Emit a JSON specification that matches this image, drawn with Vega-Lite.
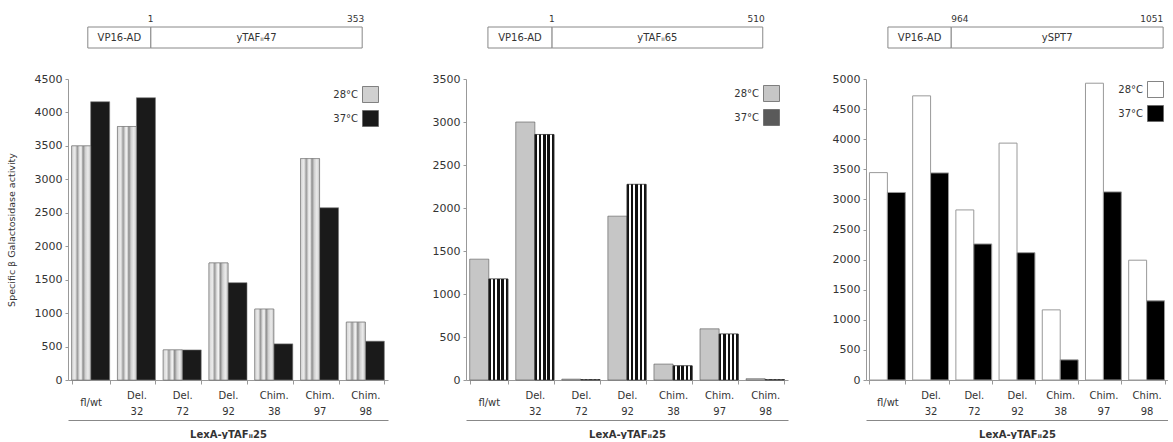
{
  "$schema": "https://vega.github.io/schema/vega-lite/v6.json",
  "padding": {"left": 6, "top": 14, "right": 0, "bottom": 0},
  "config": {
    "view": {"stroke": null},
    "font": "DejaVu Sans",
    "axis": {"labelColor": "#333", "titleColor": "#333", "domainColor": "#999", "tickColor": "#999", "grid": false, "labelFont": "DejaVu Sans", "titleFont": "DejaVu Sans"},
    "legend": {"labelFontSize": 10, "symbolType": "square", "symbolSize": 256, "labelAlign": "right", "labelOffset": -21, "rowPadding": 3, "symbolStrokeColor": "#666", "symbolStrokeWidth": 0.8, "padding": 0, "labelColor": "#333"},
    "text": {"color": "#333"}
  },
  "datasets": {
    "activity": [
      {"panel": "yTAF47", "construct": "fl/wt", "temp": "28°C", "activity": 3500},
      {"panel": "yTAF47", "construct": "fl/wt", "temp": "37°C", "activity": 4160},
      {"panel": "yTAF47", "construct": "Del. 32", "temp": "28°C", "activity": 3790},
      {"panel": "yTAF47", "construct": "Del. 32", "temp": "37°C", "activity": 4220},
      {"panel": "yTAF47", "construct": "Del. 72", "temp": "28°C", "activity": 450},
      {"panel": "yTAF47", "construct": "Del. 72", "temp": "37°C", "activity": 450},
      {"panel": "yTAF47", "construct": "Del. 92", "temp": "28°C", "activity": 1750},
      {"panel": "yTAF47", "construct": "Del. 92", "temp": "37°C", "activity": 1455},
      {"panel": "yTAF47", "construct": "Chim. 38", "temp": "28°C", "activity": 1060},
      {"panel": "yTAF47", "construct": "Chim. 38", "temp": "37°C", "activity": 540},
      {"panel": "yTAF47", "construct": "Chim. 97", "temp": "28°C", "activity": 3310},
      {"panel": "yTAF47", "construct": "Chim. 97", "temp": "37°C", "activity": 2575},
      {"panel": "yTAF47", "construct": "Chim. 98", "temp": "28°C", "activity": 865},
      {"panel": "yTAF47", "construct": "Chim. 98", "temp": "37°C", "activity": 580},
      {"panel": "yTAF65", "construct": "fl/wt", "temp": "28°C", "activity": 1405},
      {"panel": "yTAF65", "construct": "fl/wt", "temp": "37°C", "activity": 1175},
      {"panel": "yTAF65", "construct": "Del. 32", "temp": "28°C", "activity": 3000},
      {"panel": "yTAF65", "construct": "Del. 32", "temp": "37°C", "activity": 2855},
      {"panel": "yTAF65", "construct": "Del. 72", "temp": "28°C", "activity": 10},
      {"panel": "yTAF65", "construct": "Del. 72", "temp": "37°C", "activity": 5},
      {"panel": "yTAF65", "construct": "Del. 92", "temp": "28°C", "activity": 1905},
      {"panel": "yTAF65", "construct": "Del. 92", "temp": "37°C", "activity": 2275},
      {"panel": "yTAF65", "construct": "Chim. 38", "temp": "28°C", "activity": 185},
      {"panel": "yTAF65", "construct": "Chim. 38", "temp": "37°C", "activity": 165},
      {"panel": "yTAF65", "construct": "Chim. 97", "temp": "28°C", "activity": 595},
      {"panel": "yTAF65", "construct": "Chim. 97", "temp": "37°C", "activity": 535},
      {"panel": "yTAF65", "construct": "Chim. 98", "temp": "28°C", "activity": 15},
      {"panel": "yTAF65", "construct": "Chim. 98", "temp": "37°C", "activity": 5},
      {"panel": "ySPT7", "construct": "fl/wt", "temp": "28°C", "activity": 3445},
      {"panel": "ySPT7", "construct": "fl/wt", "temp": "37°C", "activity": 3115},
      {"panel": "ySPT7", "construct": "Del. 32", "temp": "28°C", "activity": 4720},
      {"panel": "ySPT7", "construct": "Del. 32", "temp": "37°C", "activity": 3440},
      {"panel": "ySPT7", "construct": "Del. 72", "temp": "28°C", "activity": 2825},
      {"panel": "ySPT7", "construct": "Del. 72", "temp": "37°C", "activity": 2260},
      {"panel": "ySPT7", "construct": "Del. 92", "temp": "28°C", "activity": 3935},
      {"panel": "ySPT7", "construct": "Del. 92", "temp": "37°C", "activity": 2115},
      {"panel": "ySPT7", "construct": "Chim. 38", "temp": "28°C", "activity": 1165},
      {"panel": "ySPT7", "construct": "Chim. 38", "temp": "37°C", "activity": 335},
      {"panel": "ySPT7", "construct": "Chim. 97", "temp": "28°C", "activity": 4930},
      {"panel": "ySPT7", "construct": "Chim. 97", "temp": "37°C", "activity": 3125},
      {"panel": "ySPT7", "construct": "Chim. 98", "temp": "28°C", "activity": 1990},
      {"panel": "ySPT7", "construct": "Chim. 98", "temp": "37°C", "activity": 1315}
    ],
    "schematic": [
      {"panel": "yTAF47", "part": "VP16-AD", "from": -104, "to": 1},
      {"panel": "yTAF47", "part": "yTAFᵢᵢ47", "from": 1, "to": 353},
      {"panel": "yTAF65", "part": "VP16-AD", "from": -154, "to": 1},
      {"panel": "yTAF65", "part": "yTAFᵢᵢ65", "from": 1, "to": 510},
      {"panel": "ySPT7", "part": "VP16-AD", "from": 938, "to": 964},
      {"panel": "ySPT7", "part": "ySPT7", "from": 964, "to": 1051}
    ]
  },
  "bounds": "flush",
  "align": "each",
  "columns": 3,
  "spacing": {"column": 78, "row": 31},
  "resolve": {"scale": {"x": "independent", "y": "independent", "color": "independent", "xOffset": "independent"}, "legend": {"color": "independent"}},
  "concat": [
    {
      "width": 320, "height": 21,
      "data": {"name": "schematic"},
      "transform": [{"filter": "datum.panel === 'yTAF47'"}, {"calculate": "(datum.from + datum.to) / 2", "as": "mid"}],
      "layer": [
        {"mark": {"type": "rect", "fill": "white", "stroke": "#888", "strokeWidth": 1},
         "encoding": {"x": {"field": "from", "type": "quantitative", "scale": {"domain": [-137, 396], "nice": false, "zero": false}, "axis": null}, "x2": {"field": "to"}}},
        {"mark": {"type": "text", "fontSize": 10, "baseline": "middle"},
         "encoding": {"x": {"field": "mid", "type": "quantitative"}, "text": {"field": "part", "type": "nominal"}}},
        {"transform": [{"filter": "datum.part !== 'VP16-AD'"}],
         "mark": {"type": "text", "fontSize": 9, "align": "left", "baseline": "bottom", "dx": -3, "dy": -14},
         "encoding": {"x": {"field": "from", "type": "quantitative"}, "text": {"field": "from", "type": "nominal"}}},
        {"transform": [{"filter": "datum.part !== 'VP16-AD'"}],
         "mark": {"type": "text", "fontSize": 9, "align": "right", "baseline": "bottom", "dx": 2, "dy": -14},
         "encoding": {"x": {"field": "to", "type": "quantitative"}, "text": {"field": "to", "type": "nominal"}}}
      ]
    },
    {
      "width": 322, "height": 21,
      "data": {"name": "schematic"},
      "transform": [{"filter": "datum.panel === 'yTAF65'"}, {"calculate": "(datum.from + datum.to) / 2", "as": "mid"}],
      "layer": [
        {"mark": {"type": "rect", "fill": "white", "stroke": "#888", "strokeWidth": 1},
         "encoding": {"x": {"field": "from", "type": "quantitative", "scale": {"domain": [-207, 571], "nice": false, "zero": false}, "axis": null}, "x2": {"field": "to"}}},
        {"mark": {"type": "text", "fontSize": 10, "baseline": "middle"},
         "encoding": {"x": {"field": "mid", "type": "quantitative"}, "text": {"field": "part", "type": "nominal"}}},
        {"transform": [{"filter": "datum.part !== 'VP16-AD'"}],
         "mark": {"type": "text", "fontSize": 9, "align": "left", "baseline": "bottom", "dx": -3, "dy": -14},
         "encoding": {"x": {"field": "from", "type": "quantitative"}, "text": {"field": "from", "type": "nominal"}}},
        {"transform": [{"filter": "datum.part !== 'VP16-AD'"}],
         "mark": {"type": "text", "fontSize": 9, "align": "right", "baseline": "bottom", "dx": 2, "dy": -14},
         "encoding": {"x": {"field": "to", "type": "quantitative"}, "text": {"field": "to", "type": "nominal"}}}
      ]
    },
    {
      "width": 302, "height": 21,
      "data": {"name": "schematic"},
      "transform": [{"filter": "datum.panel === 'ySPT7'"}, {"calculate": "(datum.from + datum.to) / 2", "as": "mid"}],
      "layer": [
        {"mark": {"type": "rect", "fill": "white", "stroke": "#888", "strokeWidth": 1},
         "encoding": {"x": {"field": "from", "type": "quantitative", "scale": {"domain": [929, 1053], "nice": false, "zero": false}, "axis": null}, "x2": {"field": "to"}}},
        {"mark": {"type": "text", "fontSize": 10, "baseline": "middle"},
         "encoding": {"x": {"field": "mid", "type": "quantitative"}, "text": {"field": "part", "type": "nominal"}}},
        {"transform": [{"filter": "datum.part !== 'VP16-AD'"}],
         "mark": {"type": "text", "fontSize": 9, "align": "left", "baseline": "bottom", "dx": 0, "dy": -14},
         "encoding": {"x": {"field": "from", "type": "quantitative"}, "text": {"field": "from", "type": "nominal"}}},
        {"transform": [{"filter": "datum.part !== 'VP16-AD'"}],
         "mark": {"type": "text", "fontSize": 9, "align": "right", "baseline": "bottom", "dx": 0, "dy": -14},
         "encoding": {"x": {"field": "to", "type": "quantitative"}, "text": {"field": "to", "type": "nominal"}}}
      ]
    },
    {
      "width": 320, "height": 301,
      "data": {"name": "activity"},
      "transform": [{"filter": "datum.panel === 'yTAF47'"}],
      "resolve": {"axis": {"x": "independent"}},
      "layer": [
        {
          "mark": {"type": "bar", "stroke": "#777", "strokeWidth": 0.6},
          "encoding": {
            "x": {"field": "construct", "type": "nominal", "sort": ["fl/wt", "Del. 32", "Del. 72", "Del. 92", "Chim. 38", "Chim. 97", "Chim. 98"], "scale": {"paddingInner": 0.17, "paddingOuter": 0.08},
                  "axis": {"title": null, "labelAngle": 0, "labelExpr": "split(datum.label, ' ')", "labelFontSize": 10, "labelLineHeight": 16, "labelBaseline": "middle", "labelPadding": {"condition": {"test": "datum.label === 'fl/wt'", "value": 18}, "value": 11}, "tickBand": "extent", "tickSize": 4}},
            "xOffset": {"field": "temp", "type": "nominal", "sort": ["28°C", "37°C"]},
            "y": {"field": "activity", "type": "quantitative", "title": "Specific β Galactosidase activity", "scale": {"domain": [0, 4500], "nice": false},
                  "axis": {"values": [0, 500, 1000, 1500, 2000, 2500, 3000, 3500, 4000, 4500], "format": "d", "labelOverlap": false, "labelFontSize": 11, "tickSize": 3, "labelPadding": 3, "titleFontSize": 9.5, "titleFontWeight": "normal", "titlePadding": 18}},
            "color": {"field": "temp", "type": "nominal", "scale": {"domain": ["28°C", "37°C"], "range": ["#d0d0d0", "#1a1a1a"]}, "legend": {"title": null, "orient": "top-right", "offset": 7}}
          }
        },
        {
          "transform": [{"filter": "datum.temp === '28°C'"}],
          "mark": {"type": "bar", "stroke": "#777", "strokeWidth": 0.6,
                   "fill": {"gradient": "linear", "x1": 0, "y1": 0, "x2": 1, "y2": 0, "stops": [
                     {"offset": 0, "color": "#d4d4d4"}, {"offset": 0.18, "color": "#ececec"}, {"offset": 0.3, "color": "#9a9a9a"},
                     {"offset": 0.42, "color": "#e4e4e4"}, {"offset": 0.5, "color": "#f2f2f2"}, {"offset": 0.6, "color": "#8c8c8c"},
                     {"offset": 0.72, "color": "#d0d0d0"}, {"offset": 0.86, "color": "#ebebeb"}, {"offset": 1, "color": "#c4c4c4"}]}},
          "encoding": {
            "x": {"field": "construct", "type": "nominal", "sort": ["fl/wt", "Del. 32", "Del. 72", "Del. 92", "Chim. 38", "Chim. 97", "Chim. 98"], "axis": null},
            "xOffset": {"field": "temp", "type": "nominal", "sort": ["28°C", "37°C"]},
            "y": {"field": "activity", "type": "quantitative", "title": "Specific β Galactosidase activity",
                  "axis": {"values": [0, 500, 1000, 1500, 2000, 2500, 3000, 3500, 4000, 4500], "format": "d", "labelOverlap": false, "labelFontSize": 11, "tickSize": 3, "labelPadding": 3, "titleFontSize": 9.5, "titleFontWeight": "normal", "titlePadding": 18}}
          }
        },
        {
          "mark": {"type": "bar", "opacity": 0},
          "encoding": {
            "x": {"field": "construct", "type": "nominal", "sort": ["fl/wt", "Del. 32", "Del. 72", "Del. 92", "Chim. 38", "Chim. 97", "Chim. 98"],
                  "axis": {"orient": "bottom", "offset": 40, "labels": false, "ticks": false, "domain": true, "domainColor": "#888", "title": "LexA-yTAFᵢᵢ25", "titleFontSize": 10, "titleFontWeight": "bold", "titlePadding": 9}}
          }
        }
      ]
    },
    {
      "width": 322, "height": 301,
      "data": {"name": "activity"},
      "transform": [{"filter": "datum.panel === 'yTAF65'"}],
      "resolve": {"axis": {"x": "independent"}},
      "layer": [
        {
          "mark": {"type": "bar", "stroke": "#555", "strokeWidth": 0.6},
          "encoding": {
            "x": {"field": "construct", "type": "nominal", "sort": ["fl/wt", "Del. 32", "Del. 72", "Del. 92", "Chim. 38", "Chim. 97", "Chim. 98"], "scale": {"paddingInner": 0.17, "paddingOuter": 0.08},
                  "axis": {"title": null, "labelAngle": 0, "labelExpr": "split(datum.label, ' ')", "labelFontSize": 10, "labelLineHeight": 16, "labelBaseline": "middle", "labelPadding": {"condition": {"test": "datum.label === 'fl/wt'", "value": 18}, "value": 11}, "tickBand": "extent", "tickSize": 4}},
            "xOffset": {"field": "temp", "type": "nominal", "sort": ["28°C", "37°C"]},
            "y": {"field": "activity", "type": "quantitative", "title": null, "scale": {"domain": [0, 3500], "nice": false},
                  "axis": {"values": [0, 500, 1000, 1500, 2000, 2500, 3000, 3500], "format": "d", "labelOverlap": false, "labelFontSize": 11, "tickSize": 3, "labelPadding": 3}},
            "color": {"field": "temp", "type": "nominal", "scale": {"domain": ["28°C", "37°C"], "range": ["#c6c6c6", "#5a5a5a"]}, "legend": {"title": null, "orient": "top-right", "offset": 6}}
          }
        },
        {
          "transform": [{"filter": "datum.temp === '37°C'"}],
          "mark": {"type": "bar", "stroke": "#333", "strokeWidth": 0.6,
                   "fill": {"gradient": "linear", "x1": 0, "y1": 0, "x2": 1, "y2": 0, "stops": [
                     {"offset": 0, "color": "#111"}, {"offset": 0.12, "color": "#111"}, {"offset": 0.12, "color": "#fff"}, {"offset": 0.22, "color": "#fff"},
                     {"offset": 0.22, "color": "#111"}, {"offset": 0.34, "color": "#111"}, {"offset": 0.34, "color": "#fff"}, {"offset": 0.44, "color": "#fff"},
                     {"offset": 0.44, "color": "#111"}, {"offset": 0.56, "color": "#111"}, {"offset": 0.56, "color": "#fff"}, {"offset": 0.66, "color": "#fff"},
                     {"offset": 0.66, "color": "#111"}, {"offset": 0.78, "color": "#111"}, {"offset": 0.78, "color": "#fff"}, {"offset": 0.88, "color": "#fff"},
                     {"offset": 0.88, "color": "#111"}, {"offset": 1, "color": "#111"}]}},
          "encoding": {
            "x": {"field": "construct", "type": "nominal", "sort": ["fl/wt", "Del. 32", "Del. 72", "Del. 92", "Chim. 38", "Chim. 97", "Chim. 98"], "axis": null},
            "xOffset": {"field": "temp", "type": "nominal", "sort": ["28°C", "37°C"]},
            "y": {"field": "activity", "type": "quantitative", "title": null,
                  "axis": {"values": [0, 500, 1000, 1500, 2000, 2500, 3000, 3500], "format": "d", "labelOverlap": false, "labelFontSize": 11, "tickSize": 3, "labelPadding": 3}}
          }
        },
        {
          "mark": {"type": "bar", "opacity": 0},
          "encoding": {
            "x": {"field": "construct", "type": "nominal", "sort": ["fl/wt", "Del. 32", "Del. 72", "Del. 92", "Chim. 38", "Chim. 97", "Chim. 98"],
                  "axis": {"orient": "bottom", "offset": 40, "labels": false, "ticks": false, "domain": true, "domainColor": "#888", "title": "LexA-yTAFᵢᵢ25", "titleFontSize": 10, "titleFontWeight": "bold", "titlePadding": 9}}
          }
        }
      ]
    },
    {
      "width": 302, "height": 301,
      "data": {"name": "activity"},
      "transform": [{"filter": "datum.panel === 'ySPT7'"}],
      "resolve": {"axis": {"x": "independent"}},
      "layer": [
        {
          "mark": {"type": "bar", "stroke": "#999", "strokeWidth": 1},
          "encoding": {
            "x": {"field": "construct", "type": "nominal", "sort": ["fl/wt", "Del. 32", "Del. 72", "Del. 92", "Chim. 38", "Chim. 97", "Chim. 98"], "scale": {"paddingInner": 0.17, "paddingOuter": 0.08},
                  "axis": {"title": null, "labelAngle": 0, "labelExpr": "split(datum.label, ' ')", "labelFontSize": 10, "labelLineHeight": 16, "labelBaseline": "middle", "labelPadding": {"condition": {"test": "datum.label === 'fl/wt'", "value": 18}, "value": 11}, "tickBand": "extent", "tickSize": 4}},
            "xOffset": {"field": "temp", "type": "nominal", "sort": ["28°C", "37°C"]},
            "y": {"field": "activity", "type": "quantitative", "title": null, "scale": {"domain": [0, 5000], "nice": false},
                  "axis": {"values": [0, 500, 1000, 1500, 2000, 2500, 3000, 3500, 4000, 4500, 5000], "format": "d", "labelOverlap": false, "labelFontSize": 11, "tickSize": 3, "labelPadding": 3}},
            "color": {"field": "temp", "type": "nominal", "scale": {"domain": ["28°C", "37°C"], "range": ["#ffffff", "#000000"]}, "legend": {"title": null, "orient": "top-right", "offset": 2}}
          }
        },
        {
          "mark": {"type": "bar", "opacity": 0},
          "encoding": {
            "x": {"field": "construct", "type": "nominal", "sort": ["fl/wt", "Del. 32", "Del. 72", "Del. 92", "Chim. 38", "Chim. 97", "Chim. 98"],
                  "axis": {"orient": "bottom", "offset": 40, "labels": false, "ticks": false, "domain": true, "domainColor": "#888", "title": "LexA-yTAFᵢᵢ25", "titleFontSize": 10, "titleFontWeight": "bold", "titlePadding": 9}}
          }
        }
      ]
    }
  ]
}
